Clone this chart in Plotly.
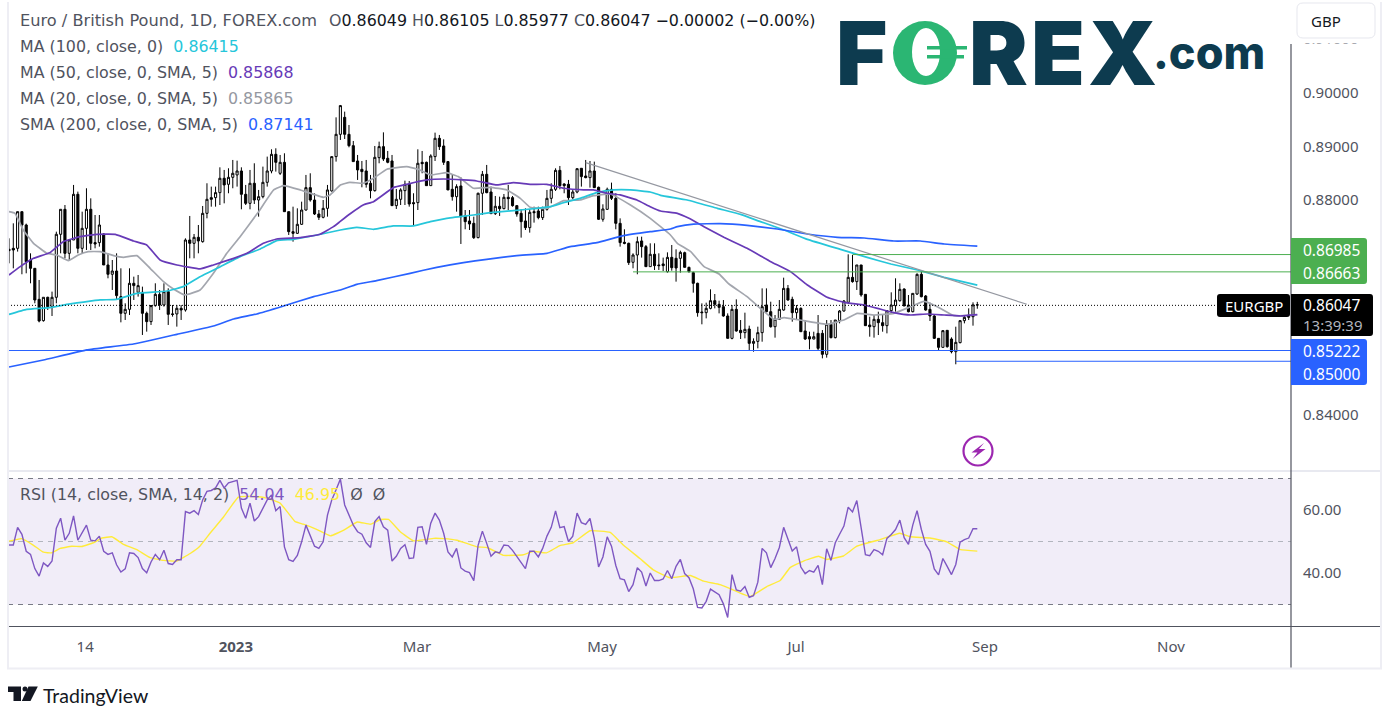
import numpy as np
import plotly.graph_objects as go

W, H = 1396, 719

# ---------- daily candles, in 1e-5 price units ----------
opens_pts = [
87083,87101,87101,87783,87535,86884,86729,86152,85755,86190,
86016,86190,87362,87827,87008,87256,88106,87101,87473,87827,
87207,87207,87368,86791,86618,86679,86202,85892,85966,86450,
86283,86283,85892,85737,86035,86245,86047,86295,85880,85880,
85985,85954,87256,87194,87306,87225,87752,88044,88044,88137,
88404,88292,88422,88466,88540,88106,87938,88311,88000,88062,
88329,88540,88850,88497,88701,87783,87411,87380,87548,87814,
88230,88000,87740,87678,87845,88168,88807,89222,89538,89222,
89011,88726,88571,88540,88311,88174,88788,88993,88776,88726,
87895,88013,88174,88292,87951,87951,88701,88701,88267,88807,
89148,89005,88714,88199,88062,88261,87703,87610,87566,87300,
88125,88478,88149,87746,87883,87839,88050,88044,87895,87752,
87610,87486,87783,87796,87672,87827,88031,88199,88552,88298,
88292,88044,88149,88590,88447,88416,88540,88236,87641,87827,
88199,88031,87566,87213,87194,86841,86977,87238,87132,86760,
86990,86791,86810,86667,86933,86915,86915,87020,86747,86648,
86450,85916,85904,85984,86127,86059,86015,85842,85426,85966,
85575,85532,85600,85333,85370,85532,86046,85922,85643,85780,
85953,86356,86152,85904,85984,85563,85457,85414,85519,85519,
85129,85687,85439,85755,85935,86096,86561,86481,86791,86245,
85674,85643,85780,85718,85662,85941,86034,86127,86344,86046,
85922,86251,86617,86214,85966,85842,85426,85259,85575,85414,
85178,85346,85755,85860,85829,86049]
highs_pts = [
87287,87566,87783,87783,87560,87008,86729,86512,86190,86200,
86295,87411,87827,87907,87256,88280,88156,87783,88218,88031,
87721,87721,87380,87008,86884,87008,86729,86078,86729,86574,
86605,86388,85923,86047,86450,86326,86450,86357,86047,86047,
86047,87287,87703,87368,87535,87889,88311,88249,88249,88608,
88559,88590,88745,88732,88608,88280,88559,88683,88187,88621,
88807,88943,88962,88838,88869,87783,87876,87845,87969,88466,
88497,88125,87814,88000,88280,88807,89538,89768,89644,89396,
89098,88838,88726,88745,88466,89005,89086,89259,88912,88838,
88205,88218,88360,88354,88125,88943,88912,88714,88850,89253,
89210,89129,88726,88466,88292,88422,87814,87814,87690,88137,
88540,88652,88249,88075,88062,88112,88280,88075,87907,87827,
87845,87833,87876,87876,87876,88187,88311,88590,88633,88311,
88373,88199,88583,88590,88745,88726,88714,88249,87920,88230,
88323,88125,87659,87455,87207,87008,87318,87318,87163,87194,
87194,87008,86928,87026,87163,87082,87057,87039,86760,86667,
86462,86077,86090,86338,86251,86127,86139,85891,86046,86152,
85767,85904,85662,85426,85643,86356,86356,86108,85860,86139,
86555,86419,86201,86046,86003,85767,85550,85550,85860,85581,
85767,85767,85767,85953,86139,86989,86977,86791,86791,86245,
85829,85860,85922,85860,85953,86282,86543,86450,86356,86232,
86263,86635,86685,86232,86090,85860,85426,85581,85581,85445,
85643,85767,85860,85984,86096,86105]
lows_pts = [
86822,86729,87040,86618,86636,86450,86078,85724,85737,85954,
85842,86078,87008,86915,86884,87256,87008,87008,87070,87070,
87101,87132,86791,86543,86326,86140,85724,85768,85861,86140,
86202,85489,85551,85675,86016,85954,86016,85675,85830,85644,
85768,85923,86915,86915,87008,87207,87659,87876,87876,87907,
87938,88125,88218,88249,87827,87907,87827,87926,87690,88031,
88249,88497,88528,88466,87783,87349,87225,87368,87535,87802,
87969,87721,87628,87659,87690,88156,88714,89117,89135,88980,
88714,88373,88236,88230,88031,88156,88683,88726,88683,87895,
87833,87907,87907,87876,87535,87814,88497,88261,88261,88726,
88931,88652,88187,87988,87783,87182,87455,87442,87275,87287,
87721,88125,87740,87721,87703,87827,87814,87876,87690,87300,
87442,87393,87579,87641,87628,87802,87938,88168,88199,88125,
87907,88013,88125,88249,88404,88230,88230,87628,87597,87814,
88000,87455,87132,87176,86791,86729,86618,86928,86760,86760,
86698,86698,86679,86648,86685,86481,86648,86747,86648,86276,
85829,85687,85798,85966,85984,85891,85829,85426,85408,85550,
85414,85426,85209,85178,85240,85364,85910,85625,85439,85767,
85941,86127,85736,85767,85550,85395,85222,85408,85209,85054,
85067,85426,85426,85705,85922,86065,86462,86326,86201,85662,
85457,85439,85488,85550,85519,85891,85922,86108,86028,85910,
85910,86232,86189,85941,85749,85414,85209,85253,85253,85147,
84943,85333,85705,85767,85662,85977]
closes_pts = [
87058,87070,87783,87535,86853,86729,86140,85749,86190,86016,
86190,87362,87827,87008,87256,88106,87101,87473,87827,87194,
87182,87535,86791,86618,86679,86221,85892,85966,86450,86407,
86407,85892,85737,86035,86245,86047,86295,85873,85873,85985,
85954,87256,87194,87306,87238,87752,88013,88013,88137,88404,
88280,88422,88497,88540,88106,87938,88311,88000,88062,88329,
88540,88850,88701,88701,87783,87411,87380,87548,87814,88230,
88000,87740,87678,87845,88187,88807,89222,89756,89222,89011,
88714,88559,88528,88292,88174,88794,88993,88763,88701,87895,
88013,88187,88292,87926,87932,88683,88676,88267,88819,89148,
88993,88701,88187,88062,88249,87690,87597,87554,87300,88125,
88478,88137,87746,87883,87839,88050,88025,87895,87740,87597,
87486,87771,87765,87672,87827,88031,88199,88552,88267,88267,
88044,88149,88583,88435,88416,88540,88230,87641,87833,88199,
88031,87566,87207,87194,86835,86977,87225,87132,86760,86990,
86779,86779,86779,86933,86741,86735,87026,86747,86667,86450,
85904,85904,85984,86127,86059,86003,85842,85426,85966,85563,
85532,85594,85333,85370,85532,86015,85922,85643,85780,85966,
86356,86139,85904,85984,85550,85414,85414,85457,85240,85129,
85687,85439,85767,85935,86121,86561,86481,86791,86233,85662,
85643,85780,85718,85662,85941,86046,86139,86338,86028,85922,
86263,86617,86201,85953,85842,85426,85259,85569,85271,85178,
85352,85755,85817,85817,86049,86047]

# ---------- moving averages (bar number, price in 1e-5) ----------
sma200_bars = [0,8,18.1,28.9,39,47.5,52.2,57.6,63.8,70.8,77,80.8,85.4,93.2,99.4,105.6,111,118,125,130.4,136.6,142.8,149,153.7,155.3,159.1,165.3,171.5,178.5,185.5,192.5,198.7,205.6,211.8,217.3,225]
sma200_pts = [84893,85024,85210,85321,85501,85656,85787,85880,86028,86202,86326,86431,86500,86636,86748,86835,86897,86965,87008,87132,87207,87337,87411,87461,87504,87553,87560,87529,87460,87367,87305,87293,87237,87237,87181,87141]
ma50_bars = [0,2.6,5.7,9.5,12.6,16.5,20.4,24.7,28.9,32,35.1,39,44.4,47.5,52.2,55.3,59.1,62.2,67.7,72.3,75.4,76.9,79.2,82.3,84.7,89.3,92.4,97.1,101,105.6,108.7,113.4,117.2,121.1,125,128.9,133.5,135.8,138.9,142,145.9,149,151.4,155.3,158,161.5,166.1,171.5,177,181.6,185.5,190.1,194,198.7,201.8,205.6,209.5,213.4,217.3,221.1,225]
ma50_pts = [86605,86760,86915,87021,87225,87318,87362,87362,87238,87163,86884,86791,86717,86791,86915,87008,87194,87275,87300,87362,87504,87597,87740,87907,87969,88230,88292,88373,88391,88373,88354,88280,88323,88292,88292,88218,88187,88187,88125,88094,88000,87876,87795,87752,87659,87504,87305,87101,86853,86667,86419,86189,86096,86046,85984,85904,85860,85879,85860,85842,85868]
ma100_bars = [0,4.1,9.5,13.4,21.2,25,29.7,36.7,40.5,44.4,49.1,53.7,58.4,62.2,66.1,71.6,77,80.8,84.7,89.3,94,97.9,101.7,107.9,111.8,117.2,122.7,125.8,128.9,132.7,136.6,140.5,144.4,149,151.4,157.6,164.6,170,174.6,180.1,185.5,193.2,199.4,204.9,211.1,217.3,225]
ma100_pts = [85873,85966,85997,86059,86140,86152,86264,86307,86388,86574,86760,86946,87089,87244,87269,87349,87442,87492,87455,87517,87517,87597,87659,87721,87765,87802,87845,87876,87951,88031,88137,88187,88187,88149,88087,88000,87845,87733,87597,87442,87268,87082,86933,86809,86698,86561,86415]
ma20_bars = [0,1.4,3.3,5.7,8.8,11.1,13.8,16.1,18.4,21.2,24.3,26.6,29.7,32.8,35.9,38.2,40.9,44.4,47.5,50.6,53.7,58,61.5,63.8,67.7,73.1,74.6,77,79.2,82.3,84.7,87.8,92.4,95.1,97.9,101.7,104.4,107.9,111.8,115.7,118.8,121.1,125,128.9,132.7,135.8,139.7,144.4,149,153.7,155.3,158.4,161.5,165,167.3,171.5,174.6,177.7,180.1,184.7,190.1,194,197.1,201,205.6,209.5,212.6,215.7,219.6,225]
ma20_pts = [87783,87752,87442,87194,87008,86977,86872,86977,87039,87039,86965,86934,86965,86729,86481,86345,86233,86326,86636,87008,87318,87783,88187,88267,88187,88050,88094,88280,88329,88311,88404,88571,88621,88571,88466,88509,88435,88218,88236,88187,88031,87864,87845,87988,88000,88081,88112,87907,87659,87349,87194,87039,86760,86623,86437,86201,85984,85780,85811,85755,85687,85767,85891,85860,85891,86015,86115,86015,85848,85865]

# ---------- drawing tools ----------
trend_bars = [134, 236.5]
trend_prices = [0.88695, 0.86060]
level_values = [0.86985, 0.86663, 0.85200, 0.85000]
level_start_bars = [196, 145, -0.23, 220]
level_colors = ["#4caf50", "#4caf50", "#2962ff", "#2962ff"]
last_price = 0.86040

# ---------- RSI ----------
rsi_values = [
48.9,48.9,54.5,52.3,46.9,45.9,41.4,39.0,43.2,42.1,
43.8,54.2,57.4,50.4,52.6,58.1,50.4,52.8,55.2,50.4,
50.2,51.7,46.9,45.9,46.4,42.6,40.3,41.3,46.4,46.2,
44.9,41.4,40.1,43.5,45.9,44.2,47.2,43.0,42.7,44.2,
44.2,59.5,59.0,59.8,58.6,63.2,65.9,66.2,67.0,69.4,
67.0,68.6,69.0,69.4,60.6,57.4,62.2,56.5,57.9,60.6,
63.2,64.8,59.8,61.1,48.3,44.2,43.7,45.6,49.9,55.2,
52.0,48.5,47.8,49.9,58.4,63.2,66.4,69.8,61.6,58.4,
55.2,53.1,52.3,49.6,48.1,56.3,57.9,54.7,53.6,43.8,
45.3,47.8,49.0,44.6,44.8,54.5,54.7,49.1,55.8,59.0,
56.8,52.6,46.7,45.1,47.8,41.6,40.6,40.1,37.6,48.8,
53.3,49.4,45.3,46.7,46.4,48.9,48.7,47.2,45.3,43.2,
41.4,46.9,46.9,45.1,47.8,51.7,54.5,59.7,54.4,54.7,
50.0,51.7,59.0,56.0,55.4,57.3,51.0,41.9,45.1,51.5,
48.5,42.4,38.2,37.8,34.1,36.3,41.7,40.3,35.9,40.0,
37.6,37.6,38.1,40.8,38.2,42.1,44.3,39.8,38.5,35.0,
29.1,28.9,31.0,34.9,34.0,33.1,30.2,25.9,39.5,34.6,
34.2,35.7,32.3,32.8,37.1,47.8,46.4,41.7,44.6,48.1,
54.5,51.0,47.0,48.3,41.9,39.8,40.8,40.3,42.4,36.3,
47.7,44.0,49.6,52.3,54.9,60.9,59.4,63.0,54.2,45.8,
45.5,47.4,46.9,45.8,51.0,52.2,53.8,56.8,51.2,49.1,
55.2,59.8,53.8,49.1,46.9,41.3,39.4,44.6,42.1,39.5,
42.7,49.8,50.6,51.1,54.05,54.04]
rsi_ma_bars = [0,2.9,5.7,8,9.9,11.9,14.6,16.9,19.6,21.6,23.9,26.6,29.7,32.8,35.9,39,42.1,44.4,46.7,49.8,53.3,56.8,59.9,63,66.5,68.4,71.6,74.7,77.8,80.9,84,86.3,88.2,90.9,94,98.7,101,104.1,108.8,111.1,114.9,119.5,121.8,124.9,128,131.1,135,139.7,142.8,146.6,149.7,153.6,158.3,161.4,165.2,167.6,172.2,176.1,179.2,181.5,184.6,188.1,190,193.9,197,202.4,207,209.4,214,217.9,221.1,225]
rsi_ma_values = [50.1,50.9,48.8,46.6,46.4,47.8,48.5,48.4,49.6,51.1,51.5,49.1,47.4,44.9,44.0,43.8,46.2,48.6,52.6,57.7,64.1,64.3,63.8,62.2,56.3,55.5,53.8,51.8,53.6,56.2,55.5,57.0,57.0,53.1,50.2,51.0,50.9,50.4,48.3,48.1,45.6,45.8,46.9,46.4,48.7,49.6,53.4,52.9,48.8,44.6,41.0,38.5,39.2,37.4,36.3,35.0,32.5,35.7,37.6,41.7,43.8,45.3,44.3,45.4,48.5,50.6,52.6,51.5,51.1,49.9,47.4,46.95]
rsi_levels = [70, 50, 30]

# ---------- axis ticks ----------
price_ticks = [0.84, 0.88, 0.89, 0.90, 0.91]
price_labels = ["0.84000", "0.88000", "0.89000", "0.90000", "0.91000"]
rsi_ticks = [40, 60]
rsi_labels = ["40.00", "60.00"]
date_ticks = [17.7, 52.7, 94.8, 137.8, 182.9, 226.8, 270]
date_labels = ["14", "<b>2023</b>", "Mar", "May", "Jul", "Sep", "Nov"]

n = len(closes_pts)
assert len(opens_pts) == len(highs_pts) == len(lows_pts) == n == len(rsi_values)
bars = np.arange(n)
to_price = lambda a: np.array(a) / 1e5

# ---------- page geometry helpers ----------
PX = lambda p: p / W
PY = lambda p: 1 - p / H
UI = "Noto Sans"
HEAD = "DejaVu Sans"
GREY = "#50535e"

fig = go.Figure()

fig.add_trace(go.Candlestick(
    x=bars, open=to_price(opens_pts), high=to_price(highs_pts),
    low=to_price(lows_pts), close=to_price(closes_pts),
    increasing=dict(line=dict(color="#000000", width=1), fillcolor="#ffffff"),
    decreasing=dict(line=dict(color="#000000", width=1), fillcolor="#000000"),
    whiskerwidth=0, xaxis="x", yaxis="y", showlegend=False))

for bx, pts, col in [(ma20_bars, ma20_pts, "#a3a6ae"), (ma100_bars, ma100_pts, "#26c6da"),
                     (ma50_bars, ma50_pts, "#673ab7"), (sma200_bars, sma200_pts, "#2962ff")]:
    fig.add_trace(go.Scatter(x=bx, y=to_price(pts), mode="lines", line=dict(color=col, width=1.7, shape="spline", smoothing=0.3),
                             xaxis="x", yaxis="y", showlegend=False))

fig.add_trace(go.Scatter(x=trend_bars, y=trend_prices, mode="lines", line=dict(color="#9598a1", width=1.2),
                         xaxis="x", yaxis="y", showlegend=False))
for v, s, c in zip(level_values, level_start_bars, level_colors):
    fig.add_trace(go.Scatter(x=[s, 298], y=[v, v], mode="lines", line=dict(color=c, width=1),
                             xaxis="x", yaxis="y", showlegend=False))
fig.add_trace(go.Scatter(x=[-0.23, 280.7], y=[last_price, last_price], mode="lines",
                         line=dict(color="#000000", width=1, dash="1px,2px"), xaxis="x", yaxis="y", showlegend=False))

fig.add_trace(go.Scatter(x=rsi_ma_bars, y=rsi_ma_values, mode="lines", line=dict(color="#ffeb3b", width=1.4, shape="spline", smoothing=0.3),
                         xaxis="x", yaxis="y2", showlegend=False))
fig.add_trace(go.Scatter(x=bars, y=rsi_values, mode="lines", line=dict(color="#7e57c2", width=1.4),
                         xaxis="x", yaxis="y2", showlegend=False))

shapes = []
def rect(x0, y0, x1, y1, fill, line=None, layer="above"):
    shapes.append(dict(type="rect", xref="paper", yref="paper", x0=PX(x0), x1=PX(x1), y0=PY(y0), y1=PY(y1),
                       fillcolor=fill, line=dict(width=1 if line else 0, color=line or fill), layer=layer))
def seg(x0, y0, x1, y1, color, width=1, layer="above"):
    shapes.append(dict(type="line", xref="paper", yref="paper", x0=PX(x0), x1=PX(x1), y0=PY(y0), y1=PY(y1),
                       line=dict(color=color, width=width), layer=layer))
def oval(x0, y0, x1, y1, fill, line=None, lw=0):
    shapes.append(dict(type="circle", xref="paper", yref="paper", x0=PX(x0), x1=PX(x1), y0=PY(y0), y1=PY(y1),
                       fillcolor=fill, line=dict(width=lw, color=line or fill), layer="above"))
def poly(points, fill):
    d = "M " + " L ".join(f"{PX(a):.5f},{PY(b):.5f}" for a, b in points) + " Z"
    shapes.append(dict(type="path", path=d, xref="paper", yref="paper", fillcolor=fill, line=dict(width=0), layer="above"))
def rrect(x0, y0, x1, y1, r, fill, line=None, left_round=True):
    rl = r if left_round else 0
    d = (f"M {PX(x0+rl):.5f},{PY(y0):.5f} L {PX(x1-r):.5f},{PY(y0):.5f} Q {PX(x1):.5f},{PY(y0):.5f} {PX(x1):.5f},{PY(y0+r):.5f} "
         f"L {PX(x1):.5f},{PY(y1-r):.5f} Q {PX(x1):.5f},{PY(y1):.5f} {PX(x1-r):.5f},{PY(y1):.5f} L {PX(x0+rl):.5f},{PY(y1):.5f} "
         f"Q {PX(x0):.5f},{PY(y1):.5f} {PX(x0):.5f},{PY(y1-rl):.5f} L {PX(x0):.5f},{PY(y0+rl):.5f} Q {PX(x0):.5f},{PY(y0):.5f} {PX(x0+rl):.5f},{PY(y0):.5f} Z")
    shapes.append(dict(type="path", path=d, xref="paper", yref="paper", fillcolor=fill,
                       line=dict(width=1 if line else 0, color=line or fill), layer="above"))

# RSI band and levels
shapes.append(dict(type="rect", xref="x", yref="y2", x0=-0.23, x1=297.89, y0=30, y1=70,
                   fillcolor="rgba(126,87,194,0.11)", line=dict(width=0), layer="below"))
for lv, col in zip(rsi_levels, ["#787b86", "#b2b5be", "#787b86"]):
    shapes.append(dict(type="line", xref="x", yref="y2", x0=-0.23, x1=297.89, y0=lv, y1=lv,
                       line=dict(color=col, width=1, dash="5px,5px"), layer="below"))

# frame
FRAME = "#eeeef4"
rect(7, 2, 9, 669, FRAME)
rect(1380, 2, 1382, 669, FRAME)
rect(7, 667.5, 1382, 669.5, FRAME)
rect(9, 470, 1380, 472, "#e8e9f0")
# white cover over the top of the price scale, GBP button
rect(1292, 0, 1380, 43.5, "#ffffff")
rrect(1297, 3, 1375, 38, 6, "#ffffff", "#e6e7ee")
# scale lines
seg(1291, 44, 1291, 667.5, GREY, 1.2)
seg(9, 626.5, 1380, 626.5, GREY, 1.2)
# price tags
rrect(1291, 238, 1367, 284, 3, "#4caf50", left_round=False)
rrect(1291, 339, 1367, 385, 3, "#2962ff", left_round=False)
rrect(1291, 294, 1373, 336, 3, "#000000", left_round=False)
rrect(1217, 294, 1290, 317, 3, "#000000")

# FOREX.com logo: the O
oval(893, 21, 957, 85, "#2bb673")
oval(912, 28, 940, 76, "#ffffff")
rect(927, 46, 967, 49.5, "#2bb673")
rect(927, 55, 964, 58.5, "#2bb673")
# signal icon
oval(963.5, 436.5, 992.5, 465.5, "rgba(255,255,255,0)", "#9c27b0", 2.2)
poly([(984, 443), (971.5, 452.5), (977.5, 452.5), (972.5, 459), (985.5, 449), (979, 449)], "#9c27b0")
# TradingView mark
poly([(8, 686.5), (21, 686.5), (21, 701), (13.5, 701), (13.5, 692), (8, 692)], "#131722")
oval(22.5, 686.5, 27.5, 691.5, "#131722")
poly([(28.5, 686.5), (37.8, 686.5), (30.5, 701), (21.8, 701)], "#131722")

ann = []
def text(x, y, s, size=15, color=GREY, anchor="left", family=UI, weight=None):
    ann.append(dict(x=PX(x), y=PY(y), xref="paper", yref="paper", text=s, showarrow=False, xanchor=anchor, yanchor="middle",
                    borderpad=0, borderwidth=0, font=dict(family=family, size=size, color=color, weight=weight)))

def sp(s, c):
    return f'<span style="color:{c}">{s}</span>'

text(20, 20, "Euro / British Pound, 1D, FOREX.com", 16.2, GREY, family=HEAD)
text(329, 20, "O" + sp("0.86049", "#131722") + " H" + sp("0.86105", "#131722") + " L" + sp("0.85977", "#131722") + " C" + sp("0.86047", "#131722")
     + " " + sp("−0.00002 (−0.00%)", "#131722"), 15.85, GREY, family=HEAD)
text(20, 46, "MA (100, close, 0)  " + sp("0.86415", "#26c6da"), 15.85, GREY, family=HEAD)
text(20, 72, "MA (50, close, 0, SMA, 5)  " + sp("0.85868", "#673ab7"), 15.85, GREY, family=HEAD)
text(20, 98, "MA (20, close, 0, SMA, 5)  " + sp("0.85865", "#9598a1"), 15.85, GREY, family=HEAD)
text(20, 124, "SMA (200, close, 0, SMA, 5)  " + sp("0.87141", "#2962ff"), 15.85, GREY, family=HEAD)
text(20, 494, "RSI (14, close, SMA, 14, 2)  " + sp("54.04", "#7e57c2") + "  " + sp("46.95", "#ffeb3b") + "  Ø  Ø", 15.85, GREY, family=HEAD)
text(1311, 21, "GBP", 15, "#131722")
text(1303, 250, "0.86985", 15.5, "#ffffff")
text(1303, 273, "0.86663", 15.5, "#ffffff")
text(1303, 305, "0.86047", 15.5, "#ffffff")
text(1303, 325, "13:39:39", 15, "#b2b5be")
text(1303, 351, "0.85222", 15.5, "#ffffff")
text(1303, 374, "0.85000", 15.5, "#ffffff")
text(1253.5, 306, "EURGBP", 15, "#ffffff", "center")

LOGO = "#0d3b4f"
for ch, cx in [("F", 861), ("R", 998), ("E", 1058), ("X", 1122)]:
    text(cx, 53, ch, 88, LOGO, "center", "Inter", 900)
text(1209, 53, ".com", 45, LOGO, "center", "Inter", 800)
text(43, 695, "TradingView", 19.5, "#131722", "left", "Lato")

y_low = 0.9 - (470 - 92.5) / 5375
y_high = 0.9 + (92.5 - 3) / 5375
r_low = 50 + (541.5 - 626) / 3.15
r_high = 50 + (541.5 - 471) / 3.15
tick_font = dict(family=UI, size=15, color=GREY)

fig.update_layout(
    width=W, height=H, autosize=False,
    margin=dict(l=0, r=0, t=0, b=0),
    paper_bgcolor="#ffffff", plot_bgcolor="#ffffff",
    showlegend=False, hovermode=False,
    xaxis=dict(domain=[PX(8), PX(1291)], range=[-0.232, 297.89], anchor="y2", rangeslider=dict(visible=False),
               tickmode="array", tickvals=date_ticks, ticktext=date_labels, tickfont=tick_font,
               ticks="outside", ticklen=7, tickcolor="rgba(0,0,0,0)", showgrid=False, zeroline=False, showline=False),
    yaxis=dict(domain=[PY(470), PY(3)], range=[y_low, y_high], side="right", anchor="x",
               tickmode="array", tickvals=price_ticks, ticktext=price_labels, tickfont=tick_font,
               ticks="outside", ticklen=8, tickcolor="rgba(0,0,0,0)", showgrid=False, zeroline=False, showline=False),
    yaxis2=dict(domain=[PY(626), PY(471)], range=[r_low, r_high], side="right", anchor="x",
                tickmode="array", tickvals=rsi_ticks, ticktext=rsi_labels, tickfont=tick_font,
                ticks="outside", ticklen=8, tickcolor="rgba(0,0,0,0)", showgrid=False, zeroline=False, showline=False),
    shapes=shapes, annotations=ann,
)

fig.write_html("out.html", config={"displayModeBar": False},
               post_script="document.body.style.margin='0';document.body.style.overflow='hidden';")
